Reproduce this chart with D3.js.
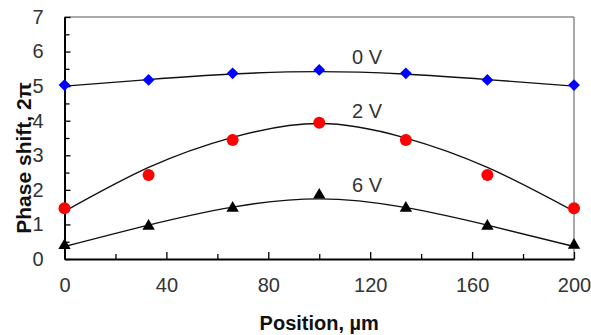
<!DOCTYPE html>
<html>
<head>
<meta charset="utf-8">
<script src="https://cdn.jsdelivr.net/npm/d3@7"></script>
<style>
  body { margin: 0; background: #fff; }
  svg { display: block; }
</style>
</head>
<body>
<div id="chart"></div>
<script>
// measured points
const positions = [0, 33, 66, 100, 134, 166, 200];
const shift0V = [5.03, 5.18, 5.37, 5.47, 5.37, 5.18, 5.03];
const shift2V = [1.47, 2.43, 3.44, 3.94, 3.44, 2.43, 1.47];
const shift6V = [0.39, 0.95, 1.47, 1.85, 1.47, 0.95, 0.40];

// fitted curves
const fitX = [0, 33, 66, 100, 133, 166, 200];
const fit0V = [5.0, 5.19, 5.35, 5.42, 5.35, 5.19, 5.0];
const fit2V = [1.38, 2.65, 3.52, 3.92, 3.52, 2.65, 1.38];
const fit6V = [0.36, 0.98, 1.5, 1.74, 1.5, 0.98, 0.36];

const xTicks = [0, 40, 80, 120, 160, 200];
const xMinor = [20, 60, 100, 140, 180];
const yTicks = [0, 1, 2, 3, 4, 5, 6, 7];
const yMinor = [0.5, 1.5, 2.5, 3.5, 4.5, 5.5, 6.5];

const width = 591;
const height = 335;
const plotL = 64.5, plotR = 574, plotT = 17, plotB = 259;

const svg = d3.select('#chart').append('svg')
  .attr('width', width)
  .attr('height', height)
  .style('font-family', '"Liberation Sans", Arial, sans-serif');

const x = d3.scaleLinear().domain([0, 200]).range([plotL, plotR]);
const y = d3.scaleLinear().domain([0, 7]).range([plotB, plotT]);

// top and right frame
svg.append('path')
  .attr('d', `M${plotL},${plotT}H${plotR}V${plotB}`)
  .attr('fill', 'none')
  .attr('stroke', '#555')
  .attr('stroke-width', 1);

// minor ticks
const yMinorAxis = d3.axisLeft(y).tickValues(yMinor).tickSize(-5).tickFormat('');
svg.append('g').attr('transform', `translate(${plotL},0)`).call(yMinorAxis)
  .call(g => g.select('.domain').remove())
  .selectAll('line').attr('stroke', '#000').attr('stroke-width', 1.3);

const xMinorAxis = d3.axisBottom(x).tickValues(xMinor).tickSize(-5).tickFormat('');
svg.append('g').attr('transform', `translate(0,${plotB})`).call(xMinorAxis)
  .call(g => g.select('.domain').remove())
  .selectAll('line').attr('stroke', '#000').attr('stroke-width', 1.3);

// major axes
const yAxis = d3.axisLeft(y).tickValues(yTicks).tickFormat(d3.format('d'))
  .tickSize(-6).tickSizeOuter(0).tickPadding(21);
const yG = svg.append('g').attr('transform', `translate(${plotL},0)`).call(yAxis);

const xAxis = d3.axisBottom(x).tickValues(xTicks).tickFormat(d3.format('d'))
  .tickSize(-7).tickSizeOuter(0).tickPadding(19);
const xG = svg.append('g').attr('transform', `translate(0,${plotB})`).call(xAxis);

[yG, xG].forEach(g => {
  g.select('.domain').attr('stroke', '#000').attr('stroke-width', 2);
  g.selectAll('line').attr('stroke', '#000').attr('stroke-width', 1.3);
  g.selectAll('text')
    .attr('font-size', 20)
    .attr('fill', '#333')
    .style('font-family', '"Liberation Sans", Arial, sans-serif');
});

// axis titles
svg.append('text')
  .attr('x', (plotL + plotR) / 2)
  .attr('y', 330)
  .attr('text-anchor', 'middle')
  .attr('font-size', 20)
  .attr('font-weight', 'bold')
  .attr('fill', '#111')
  .text('Position, µm');

svg.append('text')
  .attr('transform', 'translate(31,158) rotate(-90)')
  .attr('text-anchor', 'middle')
  .attr('font-size', 21)
  .attr('font-weight', 'bold')
  .attr('fill', '#111')
  .text('Phase shift, 2π');

// fitted lines
const line = d3.line()
  .x(d => x(d[0]))
  .y(d => y(d[1]))
  .curve(d3.curveNatural);

[fit0V, fit2V, fit6V].forEach(fit => {
  svg.append('path')
    .datum(fitX.map((p, i) => [p, fit[i]]))
    .attr('fill', 'none')
    .attr('stroke', '#111')
    .attr('stroke-width', 1.4)
    .attr('d', line);
});

// markers
const diamond = d3.symbol().type(d3.symbolSquare).size(70);
svg.append('g').selectAll('path')
  .data(positions.map((p, i) => [p, shift0V[i]]))
  .join('path')
  .attr('d', diamond)
  .attr('transform', d => `translate(${x(d[0])},${y(d[1])}) rotate(45)`)
  .attr('fill', '#0000ff');

svg.append('g').selectAll('circle')
  .data(positions.map((p, i) => [p, shift2V[i]]))
  .join('circle')
  .attr('cx', d => x(d[0]))
  .attr('cy', d => y(d[1]))
  .attr('r', 6)
  .attr('fill', '#ff0000');

const tri = d3.symbol().type(d3.symbolTriangle).size(66);
svg.append('g').selectAll('path')
  .data(positions.map((p, i) => [p, shift6V[i]]))
  .join('path')
  .attr('d', tri)
  .attr('transform', d => `translate(${x(d[0])},${y(d[1])})`)
  .attr('fill', '#000');

// series labels
const labels = [
  { text: '0 V', v: 0, base: 64 },
  { text: '2 V', v: 2, base: 118 },
  { text: '6 V', v: 6, base: 192 }
];
svg.append('g').selectAll('text')
  .data(labels)
  .join('text')
  .attr('x', 352)
  .attr('y', d => d.base)
  .attr('font-size', 20)
  .attr('fill', '#333')
  .text(d => d.text);
</script>
</body>
</html>
